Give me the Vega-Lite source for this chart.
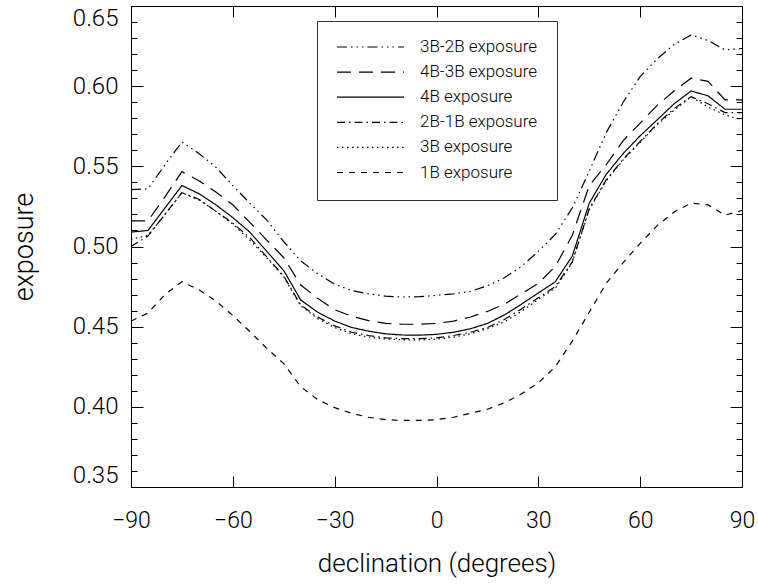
{
  "$schema": "https://vega.github.io/schema/vega-lite/v6.json",
  "width": 611,
  "height": 481,
  "autosize": {"type": "none"},
  "padding": {"left": 131, "top": 6, "right": 16, "bottom": 100},
  "background": "white",
  "config": {
    "view": {"stroke": "black", "strokeWidth": 1},
    "font": "Roboto",
    "axis": {"grid": false, "domainColor": "black", "tickColor": "black", "labelColor": "black", "titleColor": "black", "labelFontWeight": 300, "titleFontWeight": 300, "domainWidth": 1, "tickWidth": 1}
  },
  "data": {"values": [
    {"dec": -90, "3B-2B exposure": 0.5355, "4B-3B exposure": 0.516, "4B exposure": 0.509, "2B-1B exposure": 0.500, "3B exposure": 0.5045, "1B exposure": 0.4535},
    {"dec": -85, "3B-2B exposure": 0.536, "4B-3B exposure": 0.516, "4B exposure": 0.510, "2B-1B exposure": 0.5065, "3B exposure": 0.507, "1B exposure": 0.4585},
    {"dec": -80, "3B-2B exposure": 0.551, "4B-3B exposure": 0.531, "4B exposure": 0.524, "2B-1B exposure": 0.520, "3B exposure": 0.520, "1B exposure": 0.470},
    {"dec": -75, "3B-2B exposure": 0.5652, "4B-3B exposure": 0.5467, "4B exposure": 0.538, "2B-1B exposure": 0.5336, "3B exposure": 0.5336, "1B exposure": 0.478},
    {"dec": -70, "3B-2B exposure": 0.558, "4B-3B exposure": 0.541, "4B exposure": 0.533, "2B-1B exposure": 0.5295, "3B exposure": 0.529, "1B exposure": 0.473},
    {"dec": -65, "3B-2B exposure": 0.5495, "4B-3B exposure": 0.534, "4B exposure": 0.526, "2B-1B exposure": 0.522, "3B exposure": 0.522, "1B exposure": 0.466},
    {"dec": -60, "3B-2B exposure": 0.538, "4B-3B exposure": 0.526, "4B exposure": 0.518, "2B-1B exposure": 0.5145, "3B exposure": 0.514, "1B exposure": 0.457},
    {"dec": -55, "3B-2B exposure": 0.527, "4B-3B exposure": 0.515, "4B exposure": 0.509, "2B-1B exposure": 0.5055, "3B exposure": 0.504, "1B exposure": 0.447},
    {"dec": -50, "3B-2B exposure": 0.5165, "4B-3B exposure": 0.504, "4B exposure": 0.497, "2B-1B exposure": 0.4935, "3B exposure": 0.493, "1B exposure": 0.4365},
    {"dec": -45, "3B-2B exposure": 0.503, "4B-3B exposure": 0.493, "4B exposure": 0.485, "2B-1B exposure": 0.4815, "3B exposure": 0.481, "1B exposure": 0.427},
    {"dec": -40, "3B-2B exposure": 0.491, "4B-3B exposure": 0.476, "4B exposure": 0.4666, "2B-1B exposure": 0.4635, "3B exposure": 0.463, "1B exposure": 0.4125},
    {"dec": -35, "3B-2B exposure": 0.483, "4B-3B exposure": 0.4677, "4B exposure": 0.459, "2B-1B exposure": 0.456, "3B exposure": 0.455, "1B exposure": 0.4045},
    {"dec": -30, "3B-2B exposure": 0.4765, "4B-3B exposure": 0.4606, "4B exposure": 0.4535, "2B-1B exposure": 0.4505, "3B exposure": 0.4495, "1B exposure": 0.3995},
    {"dec": -25, "3B-2B exposure": 0.4725, "4B-3B exposure": 0.4565, "4B exposure": 0.4495, "2B-1B exposure": 0.4465, "3B exposure": 0.4455, "1B exposure": 0.396},
    {"dec": -20, "3B-2B exposure": 0.4705, "4B-3B exposure": 0.4538, "4B exposure": 0.4472, "2B-1B exposure": 0.4445, "3B exposure": 0.4435, "1B exposure": 0.3935},
    {"dec": -15, "3B-2B exposure": 0.469, "4B-3B exposure": 0.452, "4B exposure": 0.4455, "2B-1B exposure": 0.443, "3B exposure": 0.4423, "1B exposure": 0.392},
    {"dec": -10, "3B-2B exposure": 0.4685, "4B-3B exposure": 0.4515, "4B exposure": 0.4448, "2B-1B exposure": 0.4425, "3B exposure": 0.4418, "1B exposure": 0.3915},
    {"dec": -5, "3B-2B exposure": 0.4687, "4B-3B exposure": 0.4515, "4B exposure": 0.4447, "2B-1B exposure": 0.4425, "3B exposure": 0.4417, "1B exposure": 0.3915},
    {"dec": 0, "3B-2B exposure": 0.4695, "4B-3B exposure": 0.452, "4B exposure": 0.4452, "2B-1B exposure": 0.443, "3B exposure": 0.4422, "1B exposure": 0.392},
    {"dec": 5, "3B-2B exposure": 0.4705, "4B-3B exposure": 0.4535, "4B exposure": 0.4465, "2B-1B exposure": 0.4445, "3B exposure": 0.4435, "1B exposure": 0.3935},
    {"dec": 10, "3B-2B exposure": 0.472, "4B-3B exposure": 0.456, "4B exposure": 0.4487, "2B-1B exposure": 0.4465, "3B exposure": 0.4455, "1B exposure": 0.396},
    {"dec": 15, "3B-2B exposure": 0.4755, "4B-3B exposure": 0.4595, "4B exposure": 0.452, "2B-1B exposure": 0.4495, "3B exposure": 0.4488, "1B exposure": 0.3985},
    {"dec": 20, "3B-2B exposure": 0.4805, "4B-3B exposure": 0.464, "4B exposure": 0.4573, "2B-1B exposure": 0.4545, "3B exposure": 0.453, "1B exposure": 0.4025},
    {"dec": 25, "3B-2B exposure": 0.4875, "4B-3B exposure": 0.4705, "4B exposure": 0.464, "2B-1B exposure": 0.461, "3B exposure": 0.4595, "1B exposure": 0.408},
    {"dec": 30, "3B-2B exposure": 0.497, "4B-3B exposure": 0.477, "4B exposure": 0.471, "2B-1B exposure": 0.468, "3B exposure": 0.467, "1B exposure": 0.415},
    {"dec": 35, "3B-2B exposure": 0.5075, "4B-3B exposure": 0.4875, "4B exposure": 0.478, "2B-1B exposure": 0.475, "3B exposure": 0.474, "1B exposure": 0.425},
    {"dec": 40, "3B-2B exposure": 0.524, "4B-3B exposure": 0.507, "4B exposure": 0.494, "2B-1B exposure": 0.4905, "3B exposure": 0.490, "1B exposure": 0.441},
    {"dec": 45, "3B-2B exposure": 0.547, "4B-3B exposure": 0.538, "4B exposure": 0.527, "2B-1B exposure": 0.5235, "3B exposure": 0.523, "1B exposure": 0.459},
    {"dec": 50, "3B-2B exposure": 0.571, "4B-3B exposure": 0.551, "4B exposure": 0.545, "2B-1B exposure": 0.5415, "3B exposure": 0.541, "1B exposure": 0.477},
    {"dec": 55, "3B-2B exposure": 0.590, "4B-3B exposure": 0.566, "4B exposure": 0.558, "2B-1B exposure": 0.5545, "3B exposure": 0.554, "1B exposure": 0.490},
    {"dec": 60, "3B-2B exposure": 0.606, "4B-3B exposure": 0.577, "4B exposure": 0.569, "2B-1B exposure": 0.5655, "3B exposure": 0.565, "1B exposure": 0.502},
    {"dec": 65, "3B-2B exposure": 0.617, "4B-3B exposure": 0.588, "4B exposure": 0.579, "2B-1B exposure": 0.5765, "3B exposure": 0.576, "1B exposure": 0.513},
    {"dec": 70, "3B-2B exposure": 0.626, "4B-3B exposure": 0.597, "4B exposure": 0.589, "2B-1B exposure": 0.586, "3B exposure": 0.585, "1B exposure": 0.5215},
    {"dec": 75, "3B-2B exposure": 0.632, "4B-3B exposure": 0.605, "4B exposure": 0.597, "2B-1B exposure": 0.5935, "3B exposure": 0.5934, "1B exposure": 0.527},
    {"dec": 80, "3B-2B exposure": 0.6285, "4B-3B exposure": 0.603, "4B exposure": 0.594, "2B-1B exposure": 0.589, "3B exposure": 0.587, "1B exposure": 0.526},
    {"dec": 85, "3B-2B exposure": 0.6226, "4B-3B exposure": 0.5914, "4B exposure": 0.5856, "2B-1B exposure": 0.5835, "3B exposure": 0.582, "1B exposure": 0.5195},
    {"dec": 90, "3B-2B exposure": 0.6235, "4B-3B exposure": 0.5914, "4B exposure": 0.5856, "2B-1B exposure": 0.5835, "3B exposure": 0.579, "1B exposure": 0.5225}
  ]},
  "transform": [
    {"fold": ["3B-2B exposure", "4B-3B exposure", "4B exposure", "2B-1B exposure", "3B exposure", "1B exposure"], "as": ["series", "exposure"]}
  ],
  "layer": [
    {
      "mark": {"type": "line", "color": "black", "strokeWidth": 1.2, "clip": true},
      "encoding": {
        "x": {"field": "dec", "type": "quantitative",
          "scale": {"domain": [-90, 90], "nice": false, "zero": false},
          "axis": {"orient": "bottom", "values": [-90, -60, -30, 0, 30, 60, 90], "tickSize": -11, "labelPadding": 33, "labelFontSize": 23, "labelFlush": false, "title": "declination (degrees)", "titleFontSize": 26, "titlePadding": 18}},
        "y": {"field": "exposure", "type": "quantitative",
          "scale": {"domain": [0.35, 0.65], "nice": false, "zero": false},
          "axis": {"orient": "left",
            "values": [0.35, 0.36, 0.37, 0.38, 0.39, 0.40, 0.41, 0.42, 0.43, 0.44, 0.45, 0.46, 0.47, 0.48, 0.49, 0.50, 0.51, 0.52, 0.53, 0.54, 0.55, 0.56, 0.57, 0.58, 0.59, 0.60, 0.61, 0.62, 0.63, 0.64, 0.65],
            "labelExpr": "abs(round(datum.value*100) % 5) == 0 ? format(datum.value, '.2f') : ''",
            "tickSize": {"condition": {"test": "abs(round(datum.value*100) % 5) == 0", "value": -12}, "value": -6},
            "labelPadding": 25, "labelFontSize": 24, "labelFlush": true, "labelOverlap": false,
            "title": "exposure", "titleFontSize": 27, "titlePadding": 34}},
        "strokeDash": {"field": "series", "type": "nominal",
          "scale": {"domain": ["3B-2B exposure", "4B-3B exposure", "4B exposure", "2B-1B exposure", "3B exposure", "1B exposure"],
                    "range": [[10, 4, 1.5, 4, 1.5, 4, 1.5, 4], [14, 8], [1, 0], [8, 4, 1.5, 4], [1.5, 3.5], [6, 6]]},
          "legend": {"orient": "none", "legendX": 186, "legendY": 15, "title": null, "symbolType": "stroke", "symbolSize": 4489, "clipHeight": 14, "rowPadding": 8.1, "labelOffset": 15, "padding": 19, "strokeColor": "#333", "fillColor": "white", "symbolStrokeColor": "black", "symbolStrokeWidth": 1.2, "labelFontSize": 17, "labelFontWeight": 300, "labelColor": "black", "labelLimit": 300}}
      }
    },
    {
      "mark": {"type": "point", "opacity": 0},
      "encoding": {
        "x": {"field": "dec", "type": "quantitative",
          "axis": {"orient": "top", "values": [-90, -60, -30, 0, 30, 60, 90], "tickSize": -11, "labels": false, "title": null}},
        "y": {"field": "exposure", "type": "quantitative",
          "axis": {"orient": "right",
            "values": [0.35, 0.36, 0.37, 0.38, 0.39, 0.40, 0.41, 0.42, 0.43, 0.44, 0.45, 0.46, 0.47, 0.48, 0.49, 0.50, 0.51, 0.52, 0.53, 0.54, 0.55, 0.56, 0.57, 0.58, 0.59, 0.60, 0.61, 0.62, 0.63, 0.64, 0.65],
            "tickSize": {"condition": {"test": "abs(round(datum.value*100) % 5) == 0", "value": -12}, "value": -6},
            "labels": false, "title": null}}
      }
    }
  ],
  "resolve": {"axis": {"x": "independent", "y": "independent"}}
}
